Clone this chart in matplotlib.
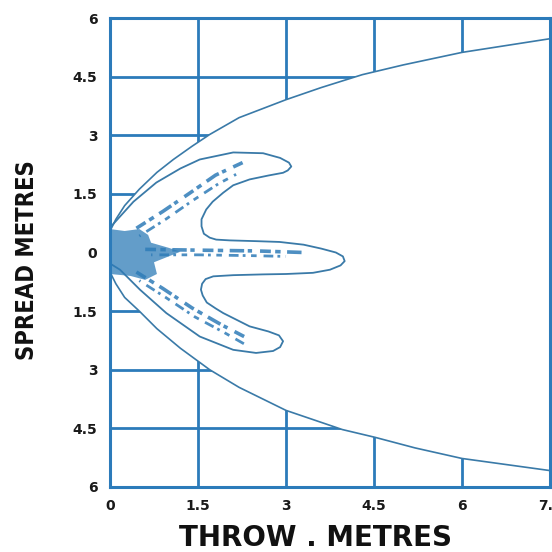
import numpy as np
import matplotlib
matplotlib.use("Agg")
import matplotlib.pyplot as plt

# ---- data (metres) ----
x_ticks = [0, 1.5, 3, 4.5, 6, 7.5]
x_tick_labels = ["0", "1.5", "3", "4.5", "6", "7.5"]
y_ticks = [6, 4.5, 3, 1.5, 0, -1.5, -3, -4.5, -6]
y_tick_labels = ["6", "4.5", "3", "1.5", "0", "1.5", "3", "4.5", "6"]

# outer envelope of the spray
env_upper_x = [0.0, 0.1, 0.25, 0.5, 0.8, 1.08, 1.4, 1.70, 2.2, 3.0, 3.6, 4.3, 5.0, 6.0, 7.5]
env_upper_y = [0.55, 0.85, 1.2, 1.62, 2.05, 2.38, 2.72, 3.02, 3.45, 3.91, 4.22, 4.55, 4.8, 5.12, 5.47]
env_lower_x = [0.0, 0.1, 0.25, 0.5, 0.8, 1.2, 1.70, 2.2, 3.0, 3.96, 4.52, 5.2, 6.0, 7.5]
env_lower_y = [-0.5, -0.8, -1.15, -1.5, -1.95, -2.45, -3.0, -3.45, -4.04, -4.53, -4.73, -5.0, -5.27, -5.58]

# inner three-lobed contour
lobe_x = [0.02, 0.4, 0.79, 1.2, 1.53, 2.10, 2.61, 2.9, 3.05, 3.09, 3.03, 2.95, 2.7, 2.38,
          2.1, 1.93, 1.75, 1.64, 1.56, 1.56, 1.6, 1.7, 1.81, 2.04, 2.5, 2.89, 3.3, 3.6,
          3.85, 3.97, 4.0, 3.93, 3.75, 3.46, 3.0, 2.61, 2.1, 1.76, 1.63, 1.57, 1.55, 1.58,
          1.65, 1.8, 1.93, 2.38, 2.7, 2.88, 2.95, 2.9, 2.78, 2.49, 2.10, 1.53, 0.96, 0.51,
          0.17, 0.02]
lobe_y = [0.67, 1.3, 1.79, 2.15, 2.38, 2.56, 2.54, 2.42, 2.3, 2.2, 2.1, 2.04, 1.97, 1.87,
          1.72, 1.53, 1.3, 1.10, 0.85, 0.67, 0.48, 0.38, 0.33, 0.31, 0.29, 0.27, 0.2, 0.1,
          0.0, -0.1, -0.22, -0.33, -0.44, -0.52, -0.55, -0.56, -0.58, -0.61, -0.68, -0.8, -0.95, -1.1,
          -1.28, -1.43, -1.55, -1.89, -2.02, -2.12, -2.27, -2.42, -2.52, -2.57, -2.49, -2.15, -1.55, -0.95,
          -0.44, -0.3]

# dense spray core near the nozzle
core_x = [0.0, 0.25, 0.5, 0.65, 0.7, 1.0, 1.2, 1.0, 0.75, 0.8, 0.6, 0.35, 0.0]
core_y = [0.6, 0.55, 0.6, 0.45, 0.25, 0.12, 0.02, -0.1, -0.25, -0.55, -0.7, -0.6, -0.55]

# spray streaks along the three arms (two rows each)
streak_up_a_x = [0.45, 0.9, 1.36, 1.8, 2.26]
streak_up_a_y = [0.62, 1.05, 1.52, 1.98, 2.3]
streak_up_b_x = [0.5, 0.95, 1.4, 1.85, 2.15]
streak_up_b_y = [0.42, 0.85, 1.32, 1.76, 2.0]
streak_mid_a_x = [0.6, 1.5, 2.5, 3.3]
streak_mid_a_y = [0.08, 0.06, 0.04, 0.0]
streak_mid_b_x = [0.7, 1.5, 2.4, 3.0]
streak_mid_b_y = [-0.06, -0.06, -0.08, -0.1]
streak_low_a_x = [0.45, 0.9, 1.4, 1.9, 2.35]
streak_low_a_y = [-0.5, -0.92, -1.42, -1.85, -2.2]
streak_low_b_x = [0.5, 0.95, 1.45, 1.95, 2.3]
streak_low_b_y = [-0.72, -1.15, -1.65, -2.05, -2.35]

grid_col = "#2c7bba"
line_col = "#3a7aa8"
spray_col = "#2f7cb8"

fig = plt.figure(figsize=(5.52, 5.52), dpi=100)
ax = fig.add_axes([110 / 552, 1 - 487 / 552, 440 / 552, 469 / 552])
ax.set_xlim(0, 7.5)
ax.set_ylim(-6, 6)

# grid
for xv in x_ticks[1:-1]:
    ax.axvline(xv, color=grid_col, lw=2.0, zorder=1)
for yv in y_ticks[1:-1]:
    ax.axhline(yv, color=grid_col, lw=2.0, zorder=1)

# envelope (white inside, covers the grid)
px = np.concatenate([env_upper_x, env_lower_x[::-1]])
py = np.concatenate([env_upper_y, env_lower_y[::-1]])
ax.fill(px, py, color="white", zorder=2, lw=0)
ax.plot(env_upper_x, env_upper_y, color=line_col, lw=1.2, zorder=3)
ax.plot(env_lower_x, env_lower_y, color=line_col, lw=1.2, zorder=3)

# lobes
ax.plot(lobe_x, lobe_y, color=line_col, lw=1.3, zorder=3, solid_joinstyle="round")

# spray
ax.fill(core_x, core_y, color=spray_col, alpha=0.75, zorder=4, lw=0)
streaks = [(streak_up_a_x, streak_up_a_y), (streak_up_b_x, streak_up_b_y),
           (streak_mid_a_x, streak_mid_a_y), (streak_mid_b_x, streak_mid_b_y),
           (streak_low_a_x, streak_low_a_y), (streak_low_b_x, streak_low_b_y)]
for i, (sx, sy) in enumerate(streaks):
    if i % 2 == 0:
        ls = (0, (3, 1.2, 1.5, 1.8, 4, 1, 1.2, 2.2))
        lw = 2.6
    else:
        ls = (1.5, (2, 2.5, 3.5, 1.5, 1, 2))
        lw = 2.0
    ax.plot(sx, sy, color=spray_col, lw=lw, zorder=4, linestyle=ls, alpha=0.85)

for s in ax.spines.values():
    s.set_color(grid_col)
    s.set_linewidth(2.2)
    s.set_zorder(5)

ax.set_xticks(x_ticks)
ax.set_xticklabels(x_tick_labels)
ax.set_yticks(y_ticks)
ax.set_yticklabels(y_tick_labels)
ax.tick_params(length=0, labelsize=10, colors="#1a1a1a", pad=9)
for lab in ax.get_xticklabels() + ax.get_yticklabels():
    lab.set_fontweight("bold")
    lab.set_fontfamily("DejaVu Sans")

ax.set_xlabel("THROW . METRES", fontsize=20, fontweight="heavy", color="#111111",
              family="DejaVu Sans", va="center", ha="center")
ax.xaxis.set_label_coords(0.468, -0.109)
ax.set_ylabel("SPREAD METRES", fontsize=17, fontweight="heavy", color="#111111",
              family="DejaVu Sans", fontstretch="condensed", va="center", ha="center")
ax.yaxis.set_label_coords(-0.189, 0.484)

fig.savefig("out.png", dpi=100)
